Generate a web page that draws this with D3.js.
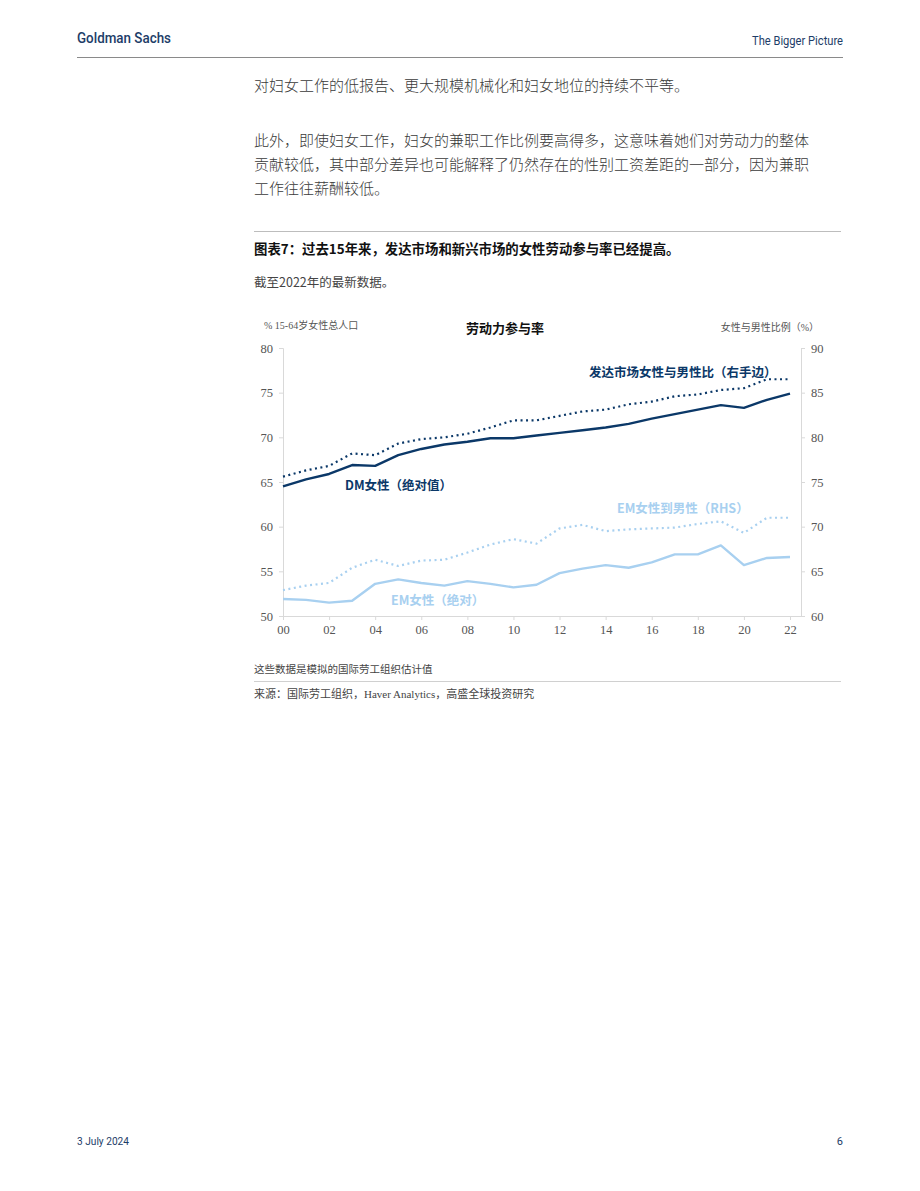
<!DOCTYPE html>
<html>
<head>
<meta charset="utf-8">
<script src="https://cdn.jsdelivr.net/npm/d3@7"></script>
<style>
  body { margin: 0; background: #fff; }
  svg { display: block; }
  .cjk { font-family: "Noto Sans CJK SC", "Noto Sans", sans-serif; }
  .tick text { font-family: "Liberation Serif", "DejaVu Serif", serif; font-size: 12.5px; fill: #555; }
  .tick line, .domain { stroke: #d9d9d9; }
</style>
</head>
<body>
<svg id="page" width="920" height="1191"></svg>
<script>
// Data, 2000-2022
const years = d3.range(2000, 2023)
const dmAbs = [64.5, 65.3, 65.9, 66.9, 66.8, 68.0, 68.7, 69.2, 69.5, 69.9, 69.9, 70.2, 70.5, 70.8, 71.1, 71.5, 72.1, 72.6, 73.1, 73.6, 73.3, 74.2, 74.9]
const dmRatio = [75.6, 76.3, 76.8, 78.2, 78.0, 79.3, 79.8, 80.0, 80.4, 81.1, 81.9, 81.9, 82.4, 82.9, 83.1, 83.7, 84.0, 84.6, 84.8, 85.3, 85.5, 86.5, 86.5]
const emAbs = [51.9, 51.8, 51.5, 51.7, 53.6, 54.1, 53.7, 53.4, 53.9, 53.6, 53.2, 53.5, 54.8, 55.3, 55.7, 55.4, 56.0, 56.9, 56.9, 57.9, 55.7, 56.5, 56.6]
const emRatio = [62.9, 63.4, 63.7, 65.4, 66.3, 65.6, 66.2, 66.3, 67.1, 68.0, 68.6, 68.1, 69.8, 70.2, 69.5, 69.7, 69.8, 69.9, 70.3, 70.6, 69.3, 71.0, 71.0]
const leftTicks = [50, 55, 60, 65, 70, 75, 80]
const rightTicks = [60, 65, 70, 75, 80, 85, 90]
const xTicks = d3.range(2000, 2023, 2)

const navy = "#0b3868"
const light = "#a8d0f0"

const svg = d3.select("#page")

// Page header / footer (condensed look via textLength)
const brandFont = "Liberation Sans Narrow, Roboto, sans-serif"
const hdr = svg.append("g")
hdr.append("text").attr("x", 77).attr("y", 43)
    .attr("font-family", brandFont).attr("font-weight", 500)
    .attr("font-size", 15).attr("fill", "#1d3d68")
    .attr("textLength", 94).attr("lengthAdjust", "spacingAndGlyphs")
    .text("Goldman Sachs")
hdr.append("text").attr("x", 752).attr("y", 45)
    .attr("font-family", brandFont)
    .attr("font-size", 12.5).attr("fill", "#1d3d68")
    .attr("textLength", 91).attr("lengthAdjust", "spacingAndGlyphs")
    .text("The Bigger Picture")
hdr.append("line").attr("x1", 77).attr("x2", 843).attr("y1", 57.5).attr("y2", 57.5)
    .attr("stroke", "#8a8a8a").attr("stroke-width", 1)

svg.append("text").attr("x", 77).attr("y", 1145)
    .attr("font-family", brandFont)
    .attr("font-size", 11).attr("fill", "#1d3d68")
    .attr("textLength", 52).attr("lengthAdjust", "spacingAndGlyphs")
    .text("3 July 2024")
svg.append("text").attr("x", 843).attr("y", 1145).attr("text-anchor", "end")
    .attr("font-family", brandFont)
    .attr("font-size", 11).attr("fill", "#1d3d68").text("6")

// Body text
const bodyLines = [
    { y: 91, t: "对妇女工作的低报告、更大规模机械化和妇女地位的持续不平等。" },
    { y: 146, t: "此外，即使妇女工作，妇女的兼职工作比例要高得多，这意味着她们对劳动力的整体" },
    { y: 170, t: "贡献较低，其中部分差异也可能解释了仍然存在的性别工资差距的一部分，因为兼职" },
    { y: 194, t: "工作往往薪酬较低。" },
]
svg.append("g").selectAll("text").data(bodyLines).join("text")
    .attr("class", "cjk").attr("x", 254).attr("y", d => d.y)
    .attr("font-size", 15).attr("font-weight", 300).attr("fill", "#3a3a3a")
    .text(d => d.t)

// Exhibit header
svg.append("line").attr("x1", 254).attr("x2", 841).attr("y1", 231.5).attr("y2", 231.5)
    .attr("stroke", "#bdbdbd")
svg.append("text").attr("class", "cjk").attr("x", 254).attr("y", 254)
    .attr("font-size", 13.4).attr("font-weight", 700).attr("fill", "#111")
    .text("图表7：过去15年来，发达市场和新兴市场的女性劳动参与率已经提高。")
svg.append("text").attr("class", "cjk").attr("x", 254).attr("y", 287)
    .attr("font-size", 12.5).attr("fill", "#444").text("截至2022年的最新数据。")

// Chart frame
const plot = { left: 283, right: 790, top: 348, bottom: 616 }
const x = d3.scaleLinear().domain([2000, 2022]).range([plot.left, plot.right])
const yL = d3.scaleLinear().domain([50, 80]).range([plot.bottom, plot.top])
const yR = d3.scaleLinear().domain([60, 90]).range([plot.bottom, plot.top])

svg.append("text").attr("x", 264).attr("y", 329)
    .attr("font-size", 10).attr("fill", "#555")
    .call(t => {
        t.append("tspan").attr("font-family", "Liberation Serif, serif").text("% 15-64")
        t.append("tspan").attr("font-family", "Noto Sans CJK SC").text("岁女性总人口")
    })
svg.append("text").attr("class", "cjk").attr("x", 505).attr("y", 333).attr("text-anchor", "middle")
    .attr("font-size", 13).attr("font-weight", 700).attr("fill", "#111").text("劳动力参与率")
svg.append("text").attr("x", 819).attr("y", 331).attr("text-anchor", "end")
    .attr("font-size", 10).attr("fill", "#555")
    .call(t => {
        t.append("tspan").attr("font-family", "Noto Sans CJK SC").text("女性与男性比例（")
        t.append("tspan").attr("font-family", "Liberation Serif, serif").text("%")
        t.append("tspan").attr("font-family", "Noto Sans CJK SC").text("）")
    })

// Axes
svg.append("g").attr("transform", `translate(${plot.left},0)`)
    .call(d3.axisLeft(yL).tickValues(leftTicks).tickSize(4).tickPadding(6))
svg.append("g").attr("transform", `translate(${plot.right + 11},0)`)
    .call(d3.axisRight(yR).tickValues(rightTicks).tickSize(4).tickPadding(6))
const xAxis = svg.append("g").attr("transform", `translate(0,${plot.bottom})`)
    .call(d3.axisBottom(x).tickValues(xTicks).tickSize(4).tickPadding(5)
        .tickFormat(d => String(d % 100).padStart(2, "0")))
xAxis.select(".domain").attr("d", `M${plot.left},0.5H${plot.right + 11}`)
svg.selectAll(".domain").attr("stroke", "#d9d9d9")

// Series
const series = [
    { vals: emRatio, y: yR, color: light, dash: "2,3.5" },
    { vals: emAbs, y: yL, color: light, dash: null },
    { vals: dmRatio, y: yR, color: navy, dash: "2,3.5" },
    { vals: dmAbs, y: yL, color: navy, dash: null },
]
svg.append("g").selectAll("path").data(series).join("path")
    .attr("fill", "none")
    .attr("stroke", d => d.color)
    .attr("stroke-width", d => d.dash ? 2.2 : 2.4)
    .attr("stroke-dasharray", d => d.dash)
    .attr("stroke-linejoin", "round")
    .attr("d", d => d3.line().x((v, i) => x(years[i])).y(v => d.y(v))(d.vals))

// Series labels
const labels = [
    { x: 589, y: 377, t: "发达市场女性与男性比（右手边）", c: navy },
    { x: 345, y: 490, t: "DM女性（绝对值）", c: navy },
    { x: 617, y: 513, t: "EM女性到男性（RHS）", c: light },
    { x: 391, y: 605, t: "EM女性（绝对）", c: light },
]
svg.append("g").selectAll("text").data(labels).join("text")
    .attr("class", "cjk").attr("x", d => d.x).attr("y", d => d.y)
    .attr("font-size", 12.5).attr("font-weight", 700).attr("fill", d => d.c)
    .text(d => d.t)

// Notes
svg.append("text").attr("class", "cjk").attr("x", 254).attr("y", 673)
    .attr("font-size", 10.5).attr("fill", "#444").text("这些数据是模拟的国际劳工组织估计值")
svg.append("line").attr("x1", 254).attr("x2", 841).attr("y1", 681.5).attr("y2", 681.5)
    .attr("stroke", "#d0d0d0")
svg.append("text").attr("x", 254).attr("y", 698)
    .attr("font-size", 11).attr("fill", "#444")
    .call(t => {
        t.append("tspan").attr("font-family", "Noto Sans CJK SC").text("来源：国际劳工组织，")
        t.append("tspan").attr("font-family", "Liberation Serif, serif").text("Haver Analytics")
        t.append("tspan").attr("font-family", "Noto Sans CJK SC").text("，高盛全球投资研究")
    })
</script>
</body>
</html>
